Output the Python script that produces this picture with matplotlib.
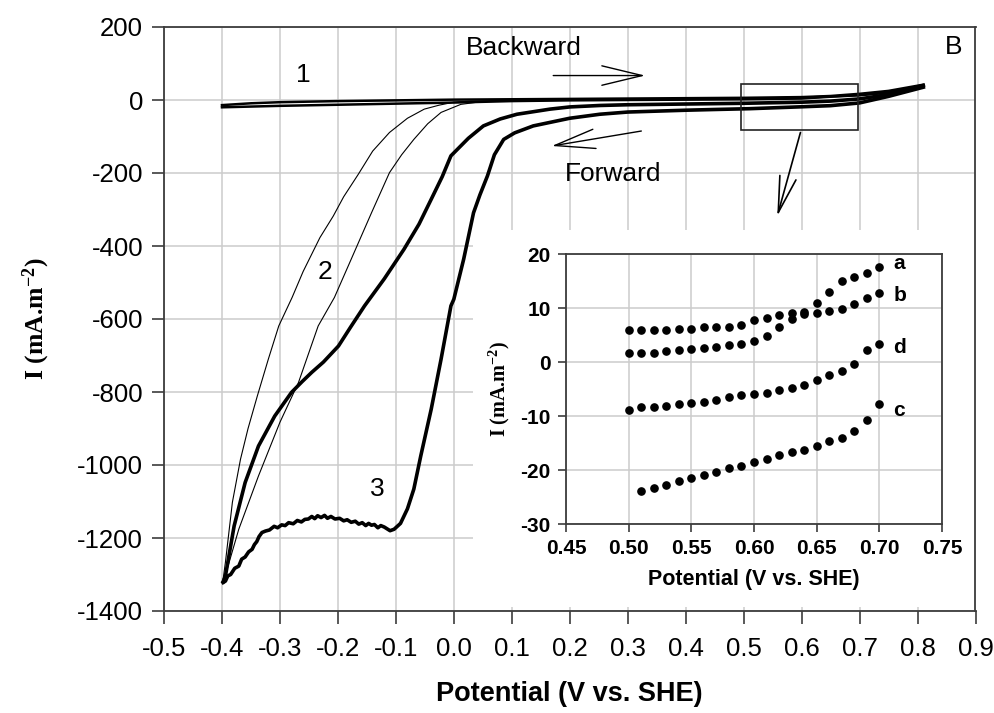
import numpy as np
import matplotlib
matplotlib.use("Agg")
import matplotlib.pyplot as plt
from matplotlib.patches import Rectangle

plt.rcParams['font.family'] = ['Liberation Sans', 'DejaVu Sans']
plt.rcParams['axes.unicode_minus'] = False
plt.rcParams['mathtext.fontset'] = 'custom'
plt.rcParams['mathtext.rm'] = 'Liberation Serif:bold'
plt.rcParams['mathtext.it'] = 'Liberation Serif:bold'
plt.rcParams['mathtext.bf'] = 'Liberation Serif:bold'
plt.rcParams['mathtext.default'] = 'rm'

# ---------------- main chart data ----------------
c1_up_x = [-0.40, -0.35, -0.30, -0.20, -0.10, 0.00, 0.10, 0.20, 0.30, 0.40, 0.50, 0.60, 0.65, 0.70, 0.75, 0.81]
c1_up_y = [-14, -9, -6, -3, -1, 1, 2, 3, 4, 5, 6, 8, 11, 17, 25, 42]
c1_dn_x = [-0.40, -0.30, -0.20, -0.10, 0.00, 0.10, 0.20, 0.30, 0.40, 0.50, 0.60, 0.65, 0.70, 0.75, 0.81]
c1_dn_y = [-20, -16, -13, -10, -7, -3, -1, 0, 1, 2, 4, 9, 13, 20, 36]

c2_a_x = [0.81, 0.75, 0.70, 0.60, 0.50, 0.40, 0.30, 0.20, 0.10, 0.03, 0.00, -0.025, -0.051, -0.08, -0.111,
          -0.14, -0.165, -0.19, -0.208, -0.231, -0.26, -0.279, -0.302, -0.32, -0.339, -0.355, -0.368,
          -0.382, -0.394, -0.398]
c2_a_y = [40, 24, 15, 8, 5, 3, 2, 0, -1, -3, -6, -14, -25, -50, -89,
          -140, -204, -265, -318, -377, -470, -541, -619, -710, -811, -900, -984,
          -1102, -1266, -1313]
c2_b_x = [0.81, 0.75, 0.70, 0.60, 0.50, 0.40, 0.30, 0.20, 0.10, 0.05, 0.012, -0.022, -0.045, -0.069,
          -0.09, -0.111, -0.142, -0.177, -0.206, -0.234, -0.268, -0.300, -0.337, -0.371, -0.391, -0.398]
c2_b_y = [38, 20, 12, 4, 2, 1, 0, -1, -2, -4, -12, -34, -65, -108,
          -150, -199, -309, -436, -541, -619, -774, -883, -1030, -1176, -1285, -1313]

c3_a_x = [0.81, 0.75, 0.70, 0.65, 0.60, 0.55, 0.50, 0.40, 0.30, 0.252, 0.20, 0.166, 0.109, 0.08, 0.051,
          0.025, -0.005, -0.02, -0.039, -0.06, -0.086, -0.12, -0.154, -0.178, -0.199, -0.225, -0.245,
          -0.262, -0.280, -0.309, -0.337, -0.360, -0.379, -0.394, -0.398]
c3_a_y = [40, 15, 3, -3, -6, -7.5, -9, -11, -13, -15, -19, -25, -39, -52, -71,
          -105, -153, -210, -272, -340, -409, -490, -564, -622, -674, -718, -746,
          -772, -801, -866, -948, -1048, -1167, -1304, -1320]
c3_b_x = [0.81, 0.75, 0.70, 0.65, 0.60, 0.55, 0.51, 0.45, 0.40, 0.30, 0.252, 0.20, 0.137, 0.105, 0.086,
          0.07, 0.058, 0.045, 0.034, 0.017, 0.0, -0.005, -0.022, -0.039, -0.057, -0.069, -0.080,
          -0.092, -0.103, -0.110, -0.116, -0.120, -0.126, -0.131, -0.137, -0.142, -0.147, -0.152,
          -0.158, -0.164, -0.170, -0.177, -0.184, -0.190, -0.197, -0.205, -0.212, -0.218, -0.223,
          -0.229, -0.235, -0.240, -0.245, -0.251, -0.257, -0.263, -0.27, -0.277, -0.285, -0.291,
          -0.297, -0.304, -0.31, -0.318, -0.325, -0.331, -0.336, -0.340, -0.344, -0.348, -0.354,
          -0.36, -0.366, -0.371, -0.378, -0.385, -0.390, -0.394, -0.398]
c3_b_y = [35, 10, -8, -15.5, -18.6, -21.5, -23.8, -26, -28, -33, -39, -50, -71, -90, -108,
          -150, -208, -260, -309, -436, -546, -564, -710, -847, -975, -1066, -1120,
          -1160, -1176, -1180, -1174, -1170, -1166, -1172, -1163, -1165, -1160, -1166,
          -1158, -1162, -1154, -1157, -1150, -1153, -1146, -1148, -1141, -1146, -1138,
          -1144, -1139, -1147, -1141, -1148, -1149, -1156, -1152, -1161, -1158, -1166,
          -1164, -1172, -1168, -1178, -1181, -1185, -1196, -1210, -1218, -1231, -1238,
          -1252, -1258, -1277, -1283, -1300, -1304, -1318, -1322]

main_xticks = [-0.5, -0.4, -0.3, -0.2, -0.1, 0.0, 0.1, 0.2, 0.3, 0.4, 0.5, 0.6, 0.7, 0.8, 0.9]
main_yticks = [200, 0, -200, -400, -600, -800, -1000, -1200, -1400]

# ---------------- inset data ----------------
ins_x = [0.50, 0.51, 0.52, 0.53, 0.54, 0.55, 0.56, 0.57, 0.58, 0.59, 0.60,
         0.61, 0.62, 0.63, 0.64, 0.65, 0.66, 0.67, 0.68, 0.69, 0.70]
ins_a = [5.9, 5.9, 6.0, 6.0, 6.1, 6.2, 6.4, 6.5, 6.5, 6.8, 7.8,
         8.2, 8.7, 9.0, 9.3, 11.0, 13.0, 15.0, 15.7, 16.4, 17.6]
ins_b = [1.6, 1.6, 1.7, 2.0, 2.3, 2.4, 2.6, 2.8, 3.1, 3.3, 3.9,
         4.8, 6.4, 8.0, 8.8, 9.0, 9.5, 9.9, 10.7, 11.9, 12.7]
ins_d = [-8.8, -8.4, -8.3, -8.1, -7.8, -7.5, -7.4, -7.0, -6.5, -6.2, -6.0,
         -5.7, -5.2, -4.9, -4.3, -3.3, -2.4, -1.7, -0.3, 2.3, 3.3]
ins_c_x = ins_x[1:]
ins_c = [-23.8, -23.4, -22.7, -22.0, -21.5, -20.9, -20.3, -19.7, -19.3, -18.6,
         -18.0, -17.3, -16.7, -16.3, -15.5, -14.6, -14.0, -12.7, -10.7, -7.7]
ins_labels = ['a', 'b', 'd', 'c']
ins_label_y = [18.3, 12.3, 2.7, -8.9]
ins_xticks = [0.45, 0.50, 0.55, 0.60, 0.65, 0.70, 0.75]
ins_yticks = [20, 10, 0, -10, -20, -30]

W, H = 995, 713
fig = plt.figure(figsize=(W / 100, H / 100), dpi=100)

spine_col = '#3c3c3c'
grid_col = '#cccccc'

ax = fig.add_axes([164 / W, 1 - 611 / H, (975.5 - 164) / W, (611 - 27) / H])
ax.set_xlim(-0.5, 0.9)
ax.set_ylim(-1400, 200)
ax.set_xticks(main_xticks)
ax.set_xticklabels([f"{v:.1f}" for v in main_xticks])
ax.set_yticks(main_yticks)
ax.set_yticklabels([str(v) for v in main_yticks])
ax.tick_params(axis='both', direction='out', length=9, width=1.2, color=spine_col,
               labelsize=18.5, pad=6)
ax.tick_params(axis='x', pad=10)
ax.grid(True, color=grid_col, lw=1.1)
ax.set_axisbelow(True)
for s in ax.spines.values():
    s.set_color(spine_col)
    s.set_linewidth(1.3)

# white backing behind the inset (hides main grid)
ax.add_patch(Rectangle((473 / W, 1 - 607 / H), (975 - 473) / W, (607 - 230) / H,
                       transform=fig.transFigure, facecolor='white', edgecolor='none',
                       zorder=0.7, clip_on=False))

ax.plot(c1_up_x, c1_up_y, color='black', lw=1.8, zorder=3)
ax.plot(c1_dn_x, c1_dn_y, color='black', lw=1.8, zorder=3)
ax.plot(c2_a_x, c2_a_y, color='black', lw=0.8, zorder=3)
ax.plot(c2_b_x, c2_b_y, color='black', lw=0.8, zorder=3)
ax.plot(c3_a_x, c3_a_y, color='black', lw=2.6, zorder=3)
ax.plot(c3_b_x, c3_b_y, color='black', lw=2.6, zorder=3)

ax.set_xlabel('Potential (V vs. SHE)', fontsize=19.5, fontweight='bold', labelpad=14)
ax.set_ylabel('I (mA.m$^{-2}$)', fontsize=18.5, fontfamily='Liberation Serif', fontweight='bold')
ax.yaxis.set_label_coords(-0.138, 0.5)

txt_kw = dict(fontsize=19, ha='center', va='center', color='black')
ax.text(-0.260, 68, '1', **txt_kw)
ax.text(-0.223, -472, '2', **txt_kw)
ax.text(-0.132, -1066, '3', **txt_kw)
ax.text(0.120, 142, 'Backward', **txt_kw)
ax.text(0.274, -204, 'Forward', **txt_kw)
ax.text(0.863, 144, 'B', **txt_kw)

arrow_kw = dict(arrowstyle='->,head_length=2.9,head_width=0.7', color='black', lw=1.0,
                shrinkA=0, shrinkB=0, mutation_scale=10)
ax.annotate('', xy=(0.330, 67), xytext=(0.1715, 67), arrowprops=arrow_kw, zorder=4)
ax.annotate('', xy=(0.169, -126), xytext=(0.3235, -85), arrowprops=arrow_kw, zorder=4)
ax.annotate('', xy=(0.558, -318), xytext=(0.598, -89),
            arrowprops=dict(arrowstyle='->,head_length=2.6,head_width=0.6', color='black', lw=1.2,
                            shrinkA=0, shrinkB=0, mutation_scale=10), zorder=4)
ax.add_patch(Rectangle((0.4953, -83), 0.697 - 0.4953, 45 + 83, facecolor='none',
                       edgecolor='#222222', lw=1.2, zorder=4))

# ---------------- inset ----------------
ia = fig.add_axes([566 / W, 1 - 524 / H, (942 - 566) / W, (524 - 254) / H])
ia.set_xlim(0.45, 0.75)
ia.set_ylim(-30, 20)
ia.set_xticks(ins_xticks)
ia.set_xticklabels([f"{v:.2f}" for v in ins_xticks])
ia.set_yticks(ins_yticks)
ia.set_yticklabels([str(v) for v in ins_yticks])
ia.tick_params(axis='both', direction='out', length=6, width=1.2, color=spine_col,
               labelsize=15, pad=5)
for lab in ia.get_xticklabels() + ia.get_yticklabels():
    lab.set_fontweight('bold')
ia.grid(True, color=grid_col, lw=1.1)
ia.set_axisbelow(True)
for s in ia.spines.values():
    s.set_color(spine_col)
    s.set_linewidth(1.3)

mk = dict(ls='none', marker='o', ms=5.2, color='black', zorder=3)
ia.plot(ins_x, ins_a, **mk)
ia.plot(ins_x, ins_b, **mk)
ia.plot(ins_x, ins_d, **mk)
ia.plot(ins_c_x, ins_c, **mk)
for lab, yv in zip(ins_labels, ins_label_y):
    ia.text(0.711, yv, lab, fontsize=15, fontweight='bold', ha='left', va='center')

ia.set_xlabel('Potential (V vs. SHE)', fontsize=15.5, fontweight='bold', labelpad=8)
ia.set_ylabel('I (mA.m$^{-2}$)', fontsize=14.5, fontfamily='Liberation Serif', fontweight='bold',
              labelpad=6)

fig.savefig('out.png', dpi=100, facecolor='white')
